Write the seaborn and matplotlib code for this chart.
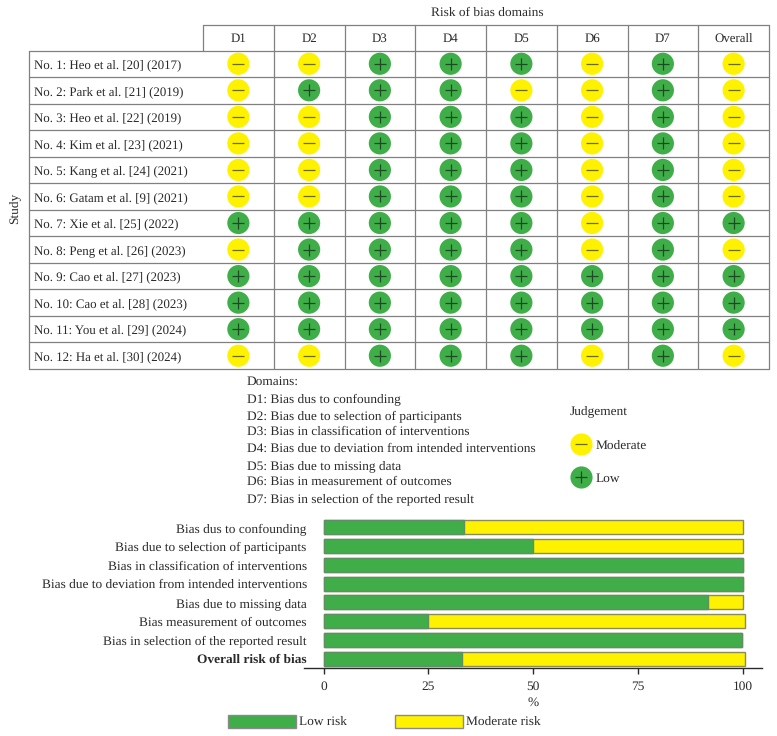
import pandas as pd
import matplotlib.pyplot as plt
import matplotlib.patches as mpatches
import seaborn as sns

studies = ['No. 1: Heo et al. [20] (2017)', 'No. 2: Park et al. [21] (2019)', 'No. 3: Heo et al. [22] (2019)',
           'No. 4: Kim et al. [23] (2021)', 'No. 5: Kang et al. [24] (2021)', 'No. 6: Gatam et al. [9] (2021)',
           'No. 7: Xie et al. [25] (2022)', 'No. 8: Peng et al. [26] (2023)', 'No. 9: Cao et al. [27] (2023)',
           'No. 10: Cao et al. [28] (2023)', 'No. 11: You et al. [29] (2024)', 'No. 12: Ha et al. [30] (2024)']
domains = ['D1', 'D2', 'D3', 'D4', 'D5', 'D6', 'D7', 'Overall']
# M = moderate, L = low
judgements = ['MMLLLMLM', 'MLLLMMLM', 'MMLLLMLM', 'MMLLLMLM', 'MMLLLMLM', 'MMLLLMLM',
              'LLLLLMLL', 'MLLLLMLM', 'LLLLLLLL', 'LLLLLLLL', 'LLLLLLLL', 'MMLLLMLM']
domain_notes = ['Domains:', 'D1: Bias dus to confounding', 'D2: Bias due to selection of participants',
                'D3: Bias in classification of interventions', 'D4: Bias due to deviation from intended interventions',
                'D5: Bias due to missing data', 'D6: Bias in measurement of outcomes',
                'D7: Bias in selection of the reported result']
bar_labels = ['Bias dus to confounding', 'Bias due to selection of participants', 'Bias in classification of interventions',
              'Bias due to deviation from intended interventions', 'Bias due to missing data',
              'Bias measurement of outcomes', 'Bias in selection of the reported result', 'Overall risk of bias']
low_risk = [33.4, 50, 100, 99.9, 91.7, 25, 99.8, 33]
moderate_risk = [66.5, 50, 0, 0, 8.3, 75.4, 0, 67.5]

GREEN = '#3fae49'
YELLOW = '#fff200'
GRID = '#808080'
INK = '#2a2a2a'
W, H = 777, 736
FS = 9.6
FS_TABLE = 9.3

sns.set_theme(style='white')
plt.rcParams['font.family'] = ['Liberation Serif', 'DejaVu Serif']
plt.rcParams['font.size'] = FS
plt.rcParams['text.color'] = INK
plt.rcParams['text.hinting'] = 'no_hinting'

fig = plt.figure(figsize=(W / 100, H / 100), dpi=100)


def box(left, top, right, bottom):
    return [left / W, 1 - bottom / H, (right - left) / W, (bottom - top) / H]


# overlay in pixel coords, for text outside the two plots
over = fig.add_axes([0, 0, 1, 1])
over.set_xlim(0, W)
over.set_ylim(H, 0)
over.axis('off')

# traffic light table
ax = fig.add_axes(box(203, 50.5, 769, 369))
rows = []
for i, s in enumerate(studies):
    for j, d in enumerate(domains):
        rows.append({'study': i, 'domain': j, 'judgement': judgements[i][j]})
df = pd.DataFrame(rows)
sns.scatterplot(data=df, x='domain', y='study', hue='judgement', palette={'M': YELLOW, 'L': GREEN},
                s=255, linewidth=0, legend=False, ax=ax, zorder=3)
low = df[df['judgement'] == 'L']
mod = df[df['judgement'] == 'M']
ax.scatter(low['domain'], low['study'], marker='+', s=75, c='#1d4a22', linewidths=0.9, zorder=4)
ax.scatter(mod['domain'], mod['study'], marker='_', s=75, c='#6a6a10', linewidths=0.9, zorder=4)
ax.set_xlim(-0.5, 7.5)
ax.set_ylim(11.5, -0.5)
ax.set_xlabel('')
ax.set_ylabel('')
ax.set_xticks([])
ax.set_yticks([])
ax.spines[:].set_visible(False)
for k in range(1, 8):
    ax.axvline(k - 0.5, color=GRID, lw=0.9, zorder=1)
for k in range(0, 13):
    ax.plot([-0.5 - 174 / 70.75, 7.5], [k - 0.5, k - 0.5], color=GRID, lw=0.9, clip_on=False, zorder=1)
ax.plot([7.5, 7.5], [-0.5, 11.5], color=GRID, lw=0.9, clip_on=False)
ax.plot([-0.5 - 174 / 70.75] * 2, [-0.5, 11.5], color=GRID, lw=0.9, clip_on=False)
for k in range(0, 9):
    ax.plot([k - 0.5, k - 0.5], [-0.5, -0.5 - 25.5 / 26.54], color=GRID, lw=0.9, clip_on=False)
ax.plot([-0.5, 7.5], [-0.5 - 25.5 / 26.54] * 2, color=GRID, lw=0.9, clip_on=False)
for j, d in enumerate(domains):
    ax.text(j, -0.82, d, ha='center', va='baseline', fontsize=FS_TABLE)
for i, s in enumerate(studies):
    ax.text(-0.5 - 169 / 70.75, i + 0.17, s, ha='left', va='baseline', fontsize=FS_TABLE)

over.text(487, 13, 'Risk of bias domains', ha='center', va='center')
over.text(14, 208, 'Study', rotation=90, ha='center', va='center')

for n, line in zip([385, 402, 419, 435, 452, 469, 485, 502], domain_notes):
    over.text(247, n, line, ha='left', va='baseline')

# judgement key
over.text(570, 414, 'Judgement', ha='left', va='baseline')
over.scatter([581], [444], s=255, c=YELLOW, linewidths=0)
over.scatter([581], [444], s=75, marker='_', c='#6a6a10', linewidths=0.9)
over.scatter([581], [477], s=255, c=GREEN, linewidths=0)
over.scatter([581], [477], s=75, marker='+', c='#1d4a22', linewidths=0.9)
over.text(596, 449, 'Moderate', ha='left', va='baseline')
over.text(596, 482, 'Low', ha='left', va='baseline')

# summary bars
bars = pd.DataFrame({'label': bar_labels, 'low': low_risk, 'moderate': moderate_risk})
bars['total'] = bars['low'] + bars['moderate']
ax2 = fig.add_axes(box(304, 518, 762, 668))
sns.barplot(data=bars, y='label', x='total', color=YELLOW, saturation=1, width=0.75,
            edgecolor='#8a8a5a', linewidth=1, ax=ax2)
sns.barplot(data=bars, y='label', x='low', color=GREEN, saturation=1, width=0.75,
            edgecolor='#5f8f63', linewidth=1, ax=ax2)
ax2.set_xlim(-4.65, 104.53)
ax2.set_xticks([0, 25, 50, 75, 100])
ax2.set_xlabel('%', labelpad=3, fontsize=FS, color=INK)
ax2.set_ylabel('')
ax2.tick_params(axis='x', length=4, width=1, color=INK, pad=5, labelsize=FS, bottom=True, labelcolor=INK)
ax2.tick_params(axis='y', length=0, pad=-2, labelsize=FS, labelcolor=INK)
ax2.get_yticklabels()[-1].set_fontweight('bold')
for side in ['top', 'left', 'right']:
    ax2.spines[side].set_visible(False)
ax2.spines['bottom'].set_color(INK)
ax2.spines['bottom'].set_linewidth(1)

# bar legend
over.add_patch(mpatches.Rectangle((227.5, 714.5), 68, 13.5, fc=GREEN, ec='#8a8a8a', lw=1))
over.add_patch(mpatches.Rectangle((394.5, 714.5), 68, 13.5, fc=YELLOW, ec='#8a8a8a', lw=1))
over.text(299, 725, 'Low risk', ha='left', va='baseline')
over.text(466, 725, 'Moderate risk', ha='left', va='baseline')

fig.savefig('out.png', dpi=100, facecolor='white')
